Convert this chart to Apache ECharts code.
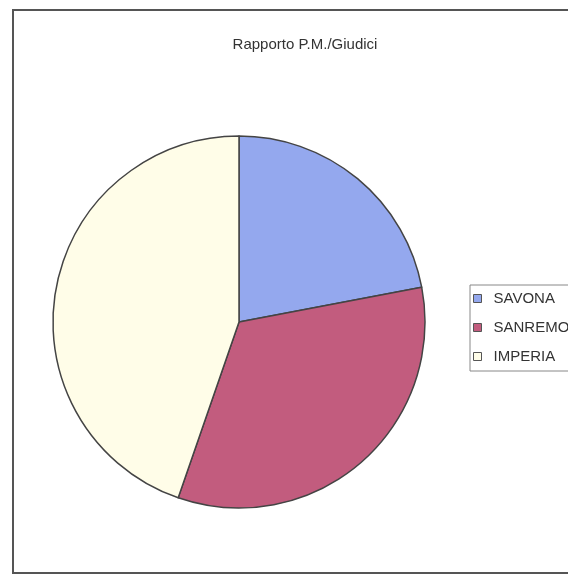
<!DOCTYPE html>
<html>
<head>
<meta charset="utf-8">
<script src="https://cdn.jsdelivr.net/npm/echarts@6/dist/echarts.min.js"></script>
<style>html,body{margin:0;padding:0;background:#fff;}#c{width:568px;height:580px;}</style>
</head>
<body>
<div id="c"></div>
<script>
const titleText = "Rapporto P.M./Giudici";
const categories = ["SAVONA", "SANREMO", "IMPERIA"];
const values = [22.0, 33.3, 44.7];
const colors = ["#94A8EE", "#C25C7E", "#FFFDE8"];

const chart = echarts.init(document.getElementById('c'), null, {renderer: 'canvas'});
chart.setOption({
  backgroundColor: '#ffffff',
  animation: false,
  graphic: [{
    type: 'rect',
    shape: {x: 13, y: 10, width: 620, height: 563},
    style: {fill: 'none', stroke: '#555', lineWidth: 2},
    z: -1
  }],
  title: {
    text: titleText,
    left: 300, top: 32, textAlign: 'center',
    textStyle: {fontFamily: 'Liberation Sans', fontSize: 15, fontWeight: 'normal', color: '#333'}
  },
  legend: {
    orient: 'vertical',
    left: 470, top: 285,
    data: categories,
    icon: 'rect',
    itemWidth: 8, itemHeight: 8, itemGap: 14,
    padding: [6, 40, 7, 3],
    borderColor: '#888', borderWidth: 1,
    itemStyle: {borderColor: '#555', borderWidth: 1},
    textStyle: {fontFamily: 'Liberation Sans', fontSize: 15, color: '#333', padding: [0, 0, 0, 7]}
  },
  series: [{
    type: 'pie',
    center: [239, 322],
    radius: 186,
    startAngle: 90,
    clockwise: true,
    label: {show: false},
    labelLine: {show: false},
    emphasis: {disabled: true},
    itemStyle: {borderColor: '#444', borderWidth: 1.5},
    data: categories.map((c, i) => ({name: c, value: values[i], itemStyle: {color: colors[i]}}))
  }]
});
</script>
</body>
</html>
